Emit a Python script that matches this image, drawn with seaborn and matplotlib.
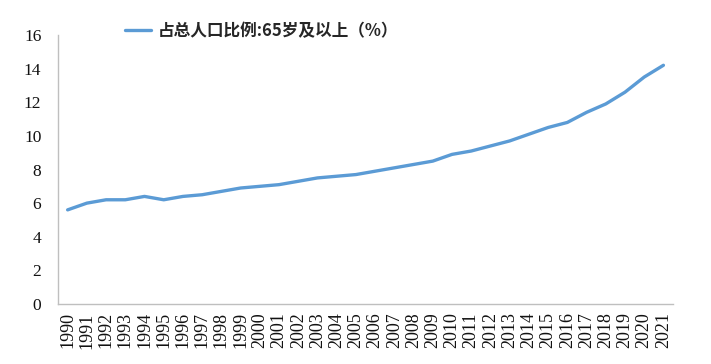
import numpy as np
import pandas as pd
import seaborn as sns
import matplotlib.pyplot as plt
from matplotlib.ticker import FixedLocator

years = list(range(1990, 2022))
share_65 = [5.6, 6.0, 6.2, 6.2, 6.4, 6.2, 6.4, 6.5, 6.7, 6.9,
            7.0, 7.1, 7.3, 7.5, 7.6, 7.7, 7.9, 8.1, 8.3, 8.5,
            8.9, 9.1, 9.4, 9.7, 10.1, 10.5, 10.8, 11.4, 11.9, 12.6,
            13.5, 14.2]
series_label = "占总人口比例:65岁及以上（%）"

df = pd.DataFrame({"year": years, "share": share_65})

sns.set_style("white")
plt.rcParams["font.family"] = ["Liberation Serif", "DejaVu Serif"]

fig = plt.figure(figsize=(7.11, 3.64), dpi=100)
ax = fig.add_axes([0.0816, 0.1648, 0.865, 0.739])

sns.lineplot(data=df, x="year", y="share", ax=ax, color="#5b9bd5",
             linewidth=2.4, label=series_label, legend=False)
line = ax.lines[0]
line.set_solid_joinstyle("round")
line.set_solid_capstyle("round")

ax.set_xlim(years[0] - 0.5, years[-1] + 0.5)
ax.set_ylim(0, 16)
ax.set_yticks(range(0, 17, 2))
ax.set_xticks(years)
ax.set_xticklabels([str(y) for y in years], rotation=90, fontsize=13)
ax.xaxis.set_minor_locator(FixedLocator(np.arange(years[0] - 0.5, years[-1] + 1, 1)))
ax.tick_params(axis="x", which="major", length=0, pad=6, labelcolor="#111111")
ax.tick_params(axis="x", which="minor", length=5, width=1, color="#bfbfbf")
ax.tick_params(axis="y", length=4, width=1, color="#bfbfbf", labelsize=12.5,
               pad=8, labelcolor="#111111")
ax.set_xlabel("")
ax.set_ylabel("")

for side in ["top", "right"]:
    ax.spines[side].set_visible(False)
for side in ["left", "bottom"]:
    ax.spines[side].set_color("#bfbfbf")
    ax.spines[side].set_linewidth(1)

handles, labels = ax.get_legend_handles_labels()
fig.legend(handles, labels, loc="center", bbox_to_anchor=(0.368, 0.915),
           frameon=False, handlelength=1.6, handletextpad=0.4,
           prop={"family": ["Noto Sans CJK SC", "DejaVu Sans"],
                 "weight": "bold", "size": 12})

fig.savefig("out.png", dpi=100)
